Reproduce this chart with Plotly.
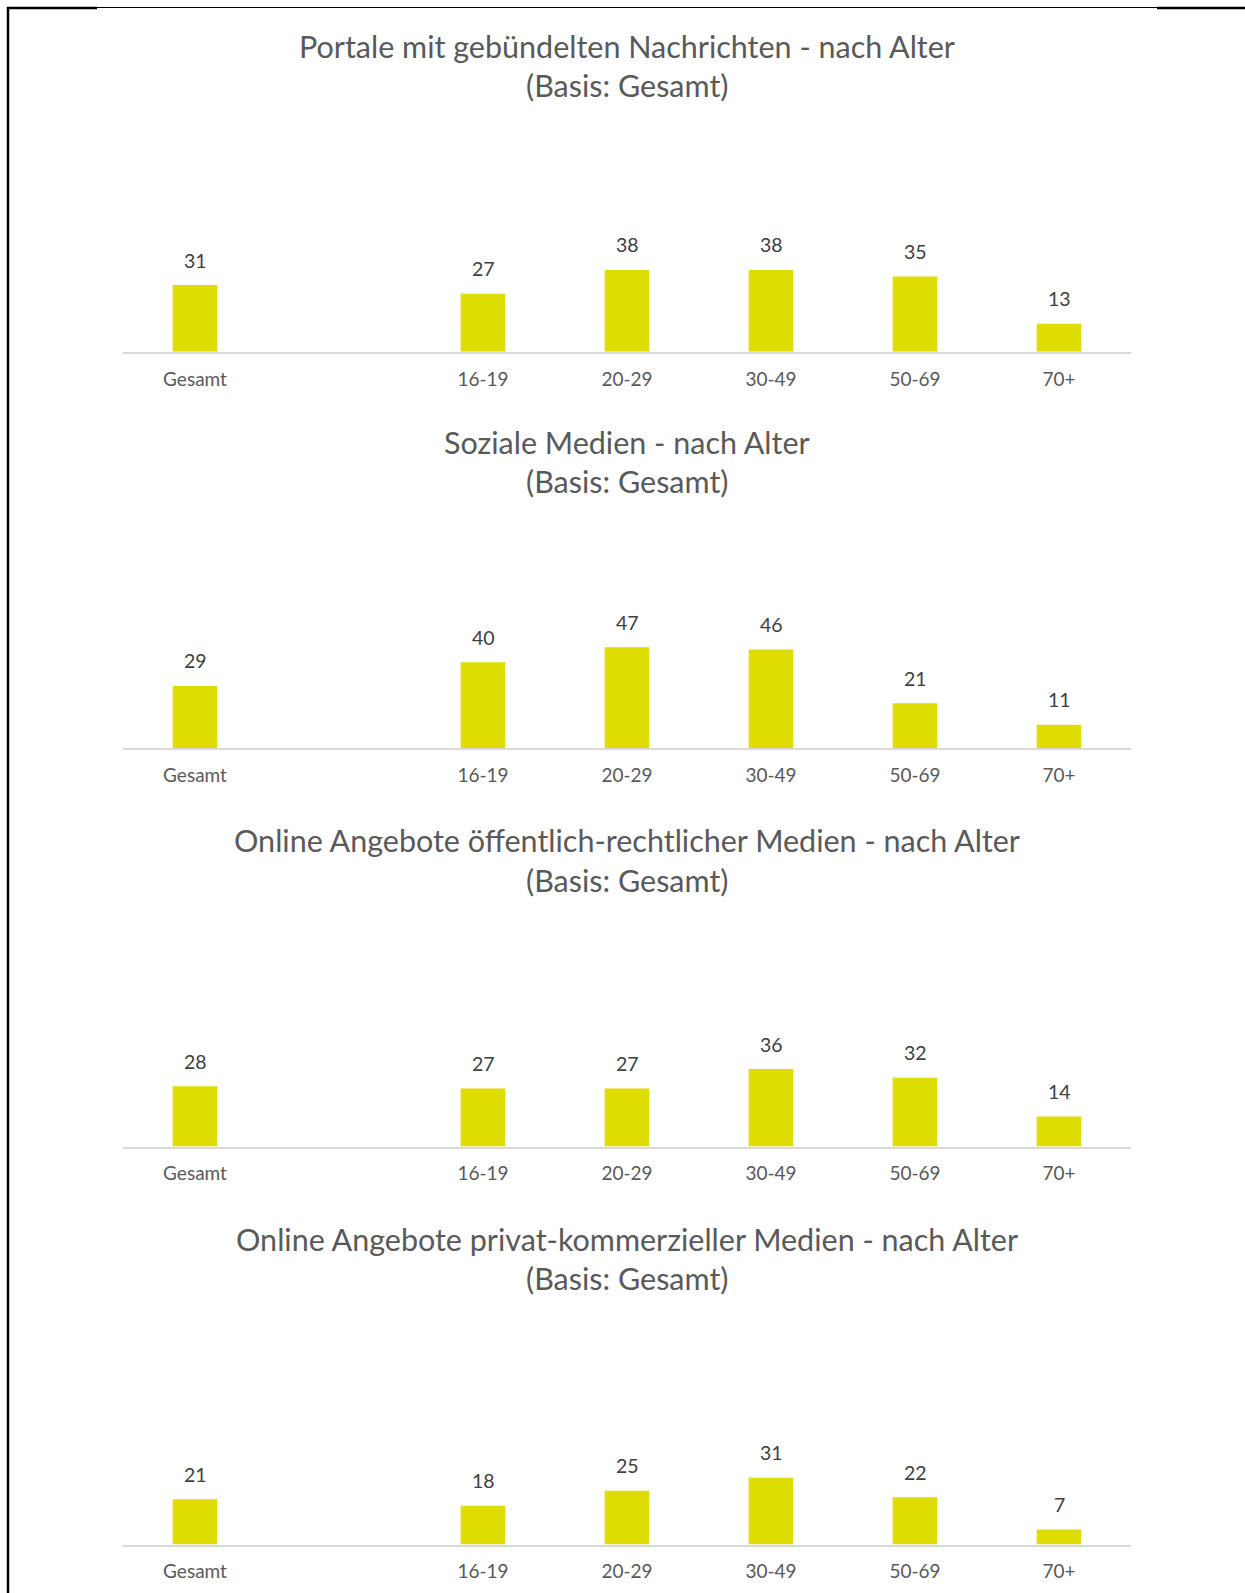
import plotly.graph_objects as go

W, H = 1245, 1593

categories = ["Gesamt", " ", "16-19", "20-29", "30-49", "50-69", "70+"]

titles = [
    "Portale mit gebündelten Nachrichten - nach Alter",
    "Soziale Medien - nach Alter",
    "Online Angebote öffentlich-rechtlicher Medien - nach Alter",
    "Online Angebote privat-kommerzieller Medien - nach Alter",
]
subtitle = "(Basis: Gesamt)"

portale = [31, None, 27, 38, 38, 35, 13]
soziale = [29, None, 40, 47, 46, 21, 11]
oeffentlich = [28, None, 27, 27, 36, 32, 14]
privat = [21, None, 18, 25, 31, 22, 7]

series = [portale, soziale, oeffentlich, privat]

# layout (pixels)
axis_y_px = [351.7, 748.3, 1146.5, 1544.5]
plot_h_px = 215
x0_px, x1_px = 123, 1131

BAR = "#DEDC00"
FONT = "Lato, Open Sans, sans-serif"

fig = go.Figure()
layout = dict(
    width=W, height=H, margin=dict(l=0, r=0, t=0, b=0),
    paper_bgcolor="white", plot_bgcolor="white", showlegend=False,
    bargap=0.69, font=dict(family=FONT),
)
annotations = []
for i, (vals, title) in enumerate(zip(series, titles)):
    n = "" if i == 0 else str(i + 1)
    fig.add_trace(go.Bar(
        x=categories, y=vals, xaxis="x" + n, yaxis="y" + n,
        marker=dict(color=BAR, line=dict(width=0)),
        hoverinfo="skip",
    ))
    for c, v in zip(categories, vals):
        if v is None:
            continue
        annotations.append(dict(
            text=str(v), x=c, y=v, xref="x" + n, yref="y" + n,
            xanchor="center", yanchor="middle", yshift=25, showarrow=False,
            font=dict(size=19.5, color="#404040", family=FONT),
        ))
    ay = axis_y_px[i]
    bottom = 1 - ay / H
    top = 1 - (ay - plot_h_px) / H
    layout["xaxis" + n] = dict(
        domain=[x0_px / W, x1_px / W], anchor="y" + n,
        type="category", categoryorder="array", categoryarray=categories,
        showline=True, linecolor="#D9D9D9", linewidth=2,
        showgrid=False, zeroline=False, ticks="", ticklabelstandoff=9,
        tickfont=dict(size=19, color="#595959", family=FONT),
        fixedrange=True,
    )
    layout["yaxis" + n] = dict(
        domain=[bottom, top], anchor="x" + n, range=[0, 100],
        visible=False, showgrid=False, zeroline=False, fixedrange=True,
    )
    cx = (x0_px + x1_px) / 2 / W
    annotations.append(dict(
        text=title, x=cx, y=1 - (ay - 306) / H, xref="paper", yref="paper",
        xanchor="center", yanchor="middle", showarrow=False,
        font=dict(size=30.5, color="#595959", family=FONT),
    ))
    annotations.append(dict(
        text=subtitle, x=cx, y=1 - (ay - 267) / H, xref="paper", yref="paper",
        xanchor="center", yanchor="middle", showarrow=False,
        font=dict(size=30.5, color="#595959", family=FONT),
    ))

def px_line(xa, ya, xb, yb, w):
    return dict(type="line", xref="paper", yref="paper",
                x0=xa / W, y0=1 - ya / H, x1=xb / W, y1=1 - yb / H,
                line=dict(color="black", width=w))

layout["shapes"] = [
    px_line(8, 7, 8, H, 2.5),
    px_line(7, 8, 97, 8, 2.5),
    px_line(97, 7.5, 1157, 7.5, 1.2),
    px_line(1157, 8, W, 8, 2.5),
]
layout["annotations"] = annotations
fig.update_layout(**layout)

fig.write_html(
    "out.html",
    config={"displayModeBar": False},
    post_script="document.body.style.margin='0';document.body.style.overflow='hidden';",
)
